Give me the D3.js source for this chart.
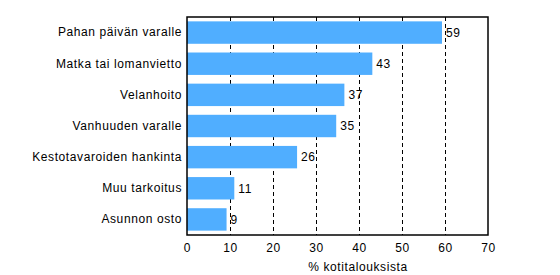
<!DOCTYPE html>
<html lang="fi">
<head>
<meta charset="UTF-8">
<title>Säästämisen tarkoitus</title>
<script src="https://d3js.org/d3.v7.min.js"></script>
<style>
  body { margin: 0; background: #fff; font-family: Arial, "Liberation Sans", sans-serif; }
  svg text { fill: #000; letter-spacing: 0.6px; }
</style>
</head>
<body>
<div id="chart"></div>
<script>
// categories top to bottom and their shares (% of households)
var categories = ["Pahan päivän varalle", "Matka tai lomanvietto", "Velanhoito",
                  "Vanhuuden varalle", "Kestotavaroiden hankinta", "Muu tarkoitus", "Asunnon osto"];
var values = [59.3, 43.1, 36.6, 34.7, 25.6, 11.0, 9.2];
var ticks = [0, 10, 20, 30, 40, 50, 60, 70];
var axisTitle = "% kotitalouksista";

var width = 560, height = 275;
var margin = {top: 17, right: 72, bottom: 40, left: 187};

var svg = d3.select("#chart").append("svg")
    .attr("width", width)
    .attr("height", height);

var x = d3.scaleLinear()
    .domain([0, 70])
    .range([margin.left, width - margin.right]);

var y = d3.scaleBand()
    .domain(categories)
    .range([margin.top, height - margin.bottom])
    .paddingInner(0.28)
    .paddingOuter(0.14);

// dashed grid lines
svg.append("g")
  .selectAll("line")
  .data(ticks.slice(1, -1))
  .join("line")
    .attr("x1", d => Math.round(x(d)) + 0.5)
    .attr("x2", d => Math.round(x(d)) + 0.5)
    .attr("y1", margin.top)
    .attr("y2", height - margin.bottom)
    .attr("stroke", "#000")
    .attr("stroke-width", 1)
    .attr("stroke-dasharray", "4,3");

// bars
svg.append("g")
  .selectAll("rect")
  .data(values)
  .join("rect")
    .attr("x", x(0))
    .attr("y", (d, i) => y(categories[i]))
    .attr("width", d => x(d) - x(0))
    .attr("height", y.bandwidth())
    .attr("fill", "#50aeff");

// value labels
svg.append("g")
  .selectAll("text")
  .data(values)
  .join("text")
    .attr("x", d => x(d) + 4)
    .attr("y", (d, i) => y(categories[i]) + y.bandwidth() / 2)
    .attr("dy", "0.36em")
    .style("font-size", "12px")
    .text(d => Math.round(d));

// frame
svg.append("rect")
    .attr("x", margin.left)
    .attr("y", margin.top)
    .attr("width", x(70) - x(0))
    .attr("height", height - margin.bottom - margin.top)
    .attr("fill", "none")
    .attr("stroke", "#000")
    .attr("stroke-width", 1.5);

// category axis
var yAxis = d3.axisLeft(y).tickSize(0).tickPadding(5);
svg.append("g")
    .attr("transform", "translate(" + margin.left + ",0)")
    .call(yAxis)
    .call(g => g.select(".domain").remove())
    .selectAll("text")
    .style("font-size", "12px")
    .style("font-family", "Arial, 'Liberation Sans', sans-serif");

// value axis
var xAxis = d3.axisBottom(x).tickValues(ticks).tickSize(0).tickPadding(8);
svg.append("g")
    .attr("transform", "translate(0," + (height - margin.bottom) + ")")
    .call(xAxis)
    .call(g => g.select(".domain").remove())
    .selectAll("text")
    .style("font-size", "12px")
    .style("font-family", "Arial, 'Liberation Sans', sans-serif");

svg.append("text")
    .attr("x", 358)
    .attr("y", 271)
    .attr("text-anchor", "middle")
    .style("font-size", "12px")
    .text(axisTitle);
</script>
</body>
</html>
